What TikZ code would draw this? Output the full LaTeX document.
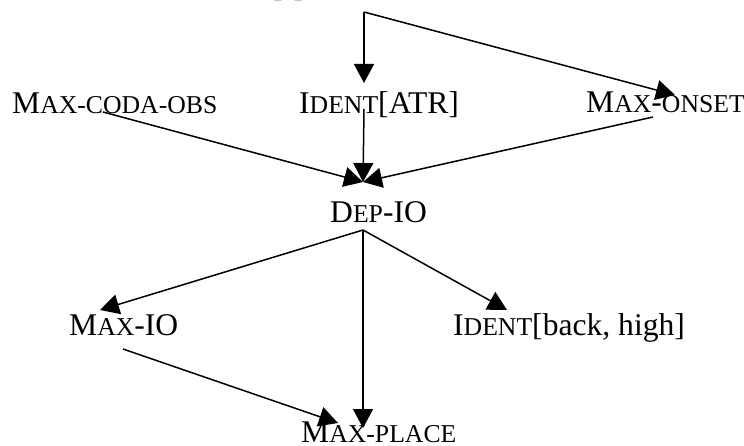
\documentclass[tikz,border=0pt]{standalone}
\usepackage{fontspec}
\setmainfont{Liberation Serif}
\usetikzlibrary{arrows.meta}
\newcommand\smc[1]{{\fontsize{25.7pt}{26pt}\selectfont #1}}
\begin{document}
\begin{tikzpicture}[x=1pt,y=-1pt,
  lbl/.style={inner sep=0pt, anchor=base west, font=\fontsize{31.6pt}{32pt}\selectfont},
  arr/.style={line width=1.5pt, -{Triangle[length=19pt,width=20pt]}}]
\useasboundingbox (0,0) rectangle (744,446);
\clip (0,0) rectangle (744,446);
% partially visible label at top
\node[lbl] (topl) at (272,-3) {[\hspace{11pt}]};
\coordinate (top) at (364,12);
\node[lbl] (cod) at (12,114) {M\smc{AX-CODA-OBS}};
\node[lbl] (atr) at (299,114) {I\smc{DENT}[ATR]};
\node[lbl] (ons) at (586,113) {M\smc{AX}-\smc{ONSET}};
\node[lbl] (dep) at (330,223) {D\smc{EP}-IO};
\node[lbl] (mio) at (69,335) {M\smc{AX}-IO};
\node[lbl] (ibh) at (453,335) {I\smc{DENT}[back, high]};
\node[lbl] (plc) at (301,442) {M\smc{AX-PLACE}};
% top connectors
\draw[arr] (top) -- ([shift={(65,-31)}]atr.base west);
\draw[arr] (top) -- ([shift={(89,-18)}]ons.base west);
% into Dep-IO
\draw[arr] ([shift={(91,-2)}]cod.base west) -- ([shift={(33,-41)}]dep.base west);
\draw[arr] ([shift={(65,-5)}]atr.base west) -- ([shift={(33,-41)}]dep.base west);
\draw[arr] ([shift={(67,4)}]ons.base west) -- ([shift={(33,-41)}]dep.base west);
% out of Dep-IO
\draw[arr] ([shift={(33,7)}]dep.base west) -- ([shift={(31,-25)}]mio.base west);
\draw[arr] ([shift={(33,7)}]dep.base west) -- ([shift={(54,-25)}]ibh.base west);
\draw[arr] ([shift={(33,7)}]dep.base west) -- ([shift={(62,-14)}]plc.base west);
\draw[arr] ([shift={(54,14)}]mio.base west) -- ([shift={(37,-19)}]plc.base west);
\end{tikzpicture}
\end{document}
